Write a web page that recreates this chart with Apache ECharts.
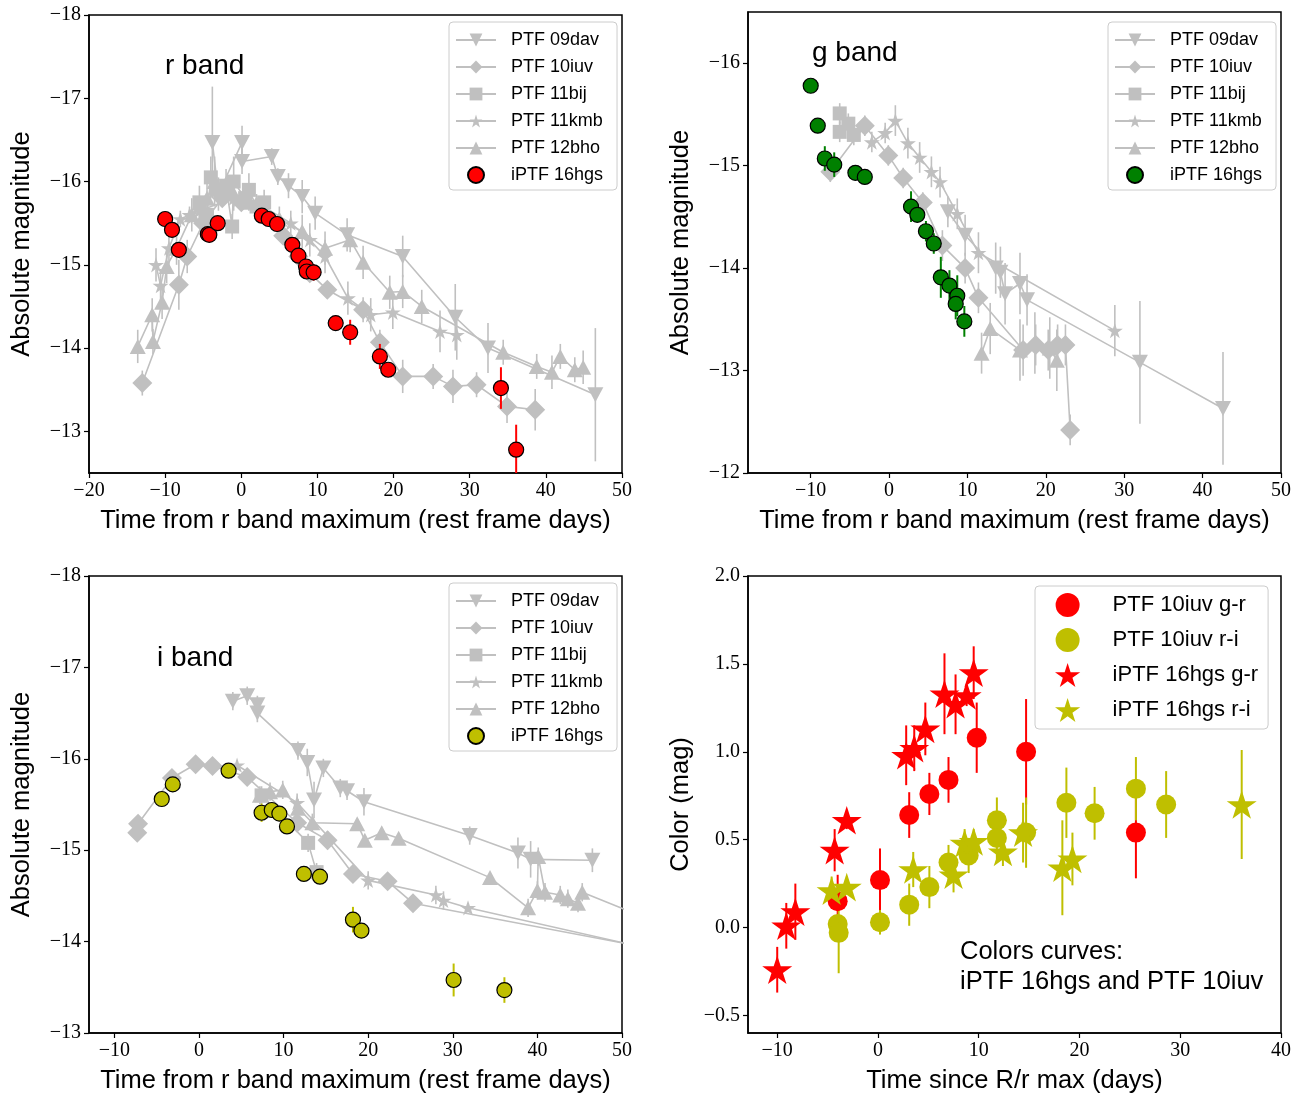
<!DOCTYPE html>
<html><head><meta charset="utf-8">
<script src="https://cdn.jsdelivr.net/npm/echarts@6/dist/echarts.min.js"></script>
<style>html,body{margin:0;padding:0;background:#fff}#c{width:1301px;height:1097px}</style>
</head><body><div id="c"></div><script>
// ---------- DATA: [time, value, error] ----------
// r band
const r_09dav = [[-3.8,-16.47,0.67],[-3.0,-15.85,0.2],[0.1,-16.47,0.2],[0.1,-16.24,0.15],[4.0,-16.3,0.1],[4.8,-16.06,0.1],[6.2,-15.95,0.15],[8.0,-15.82,0.2],[9.7,-15.62,0.2],[13.9,-15.36,0.2],[21.2,-15.1,0.25],[28.1,-14.37,0.4],[32.4,-14.0,0.3],[46.5,-13.44,0.8]];
const r_10iuv = [[-13.0,-13.58,0.15],[-8.2,-14.76,0.3],[-7.1,-15.1,0.2],[-5.0,-15.5,0.15],[-2.5,-15.8,0.1],[0.0,-15.75,0.1],[3.0,-15.6,0.1],[5.5,-15.35,0.1],[7.5,-15.1,0.1],[9.0,-14.9,0.1],[11.3,-14.7,0.1],[16.0,-14.46,0.15],[18.2,-14.07,0.15],[21.2,-13.66,0.2],[25.2,-13.66,0.15],[27.8,-13.54,0.2],[30.9,-13.56,0.15],[34.9,-13.3,0.2],[38.6,-13.26,0.25]];
const r_11bij = [[-5.5,-15.75,0.2],[-4.5,-15.6,0.15],[-4.0,-16.05,0.25],[-3.2,-15.9,0.1],[-2.0,-15.95,0.2],[-1.2,-15.46,0.15],[-1.0,-16.0,0.3],[0.5,-15.8,0.1],[1.0,-15.9,0.2],[2.0,-15.7,0.1],[3.0,-15.75,0.15]];
const r_11kmb = [[-11.2,-15.0,0.2],[-10.6,-14.75,0.2],[-9.5,-15.2,0.2],[-8.0,-15.55,0.1],[-6.8,-15.6,0.1],[-5.5,-15.65,0.1],[-1.0,-15.8,0.1],[2.0,-15.75,0.1],[6.5,-15.5,0.15],[9.0,-15.3,0.2],[11.0,-15.1,0.2],[14.0,-14.6,0.2],[17.0,-14.4,0.2],[19.9,-14.43,0.2],[26.1,-14.2,0.25],[28.3,-14.16,0.3]];
const r_12bho = [[-13.6,-14.02,0.2],[-11.7,-14.4,0.2],[-11.6,-14.08,0.15],[-10.4,-14.55,0.2],[-9.8,-14.98,0.2],[-8.5,-15.2,0.2],[-6.5,-15.6,0.2],[-4.5,-15.8,0.2],[-3.5,-16.0,0.3],[-2.0,-15.9,0.15],[-1.0,-15.85,0.2],[1.0,-15.75,0.1],[5.0,-15.55,0.15],[8.0,-15.4,0.2],[11.0,-15.2,0.2],[14.3,-15.3,0.15],[16.0,-15.03,0.2],[19.5,-14.67,0.2],[21.2,-14.68,0.2],[23.7,-14.5,0.2],[34.4,-13.95,0.15],[38.8,-13.78,0.15],[40.8,-13.71,0.2],[41.9,-13.9,0.15],[43.8,-13.74,0.15],[44.9,-13.77,0.2]];
const r_16hgs = [[-10.0,-15.55,0.04],[-9.1,-15.42,0.03],[-8.2,-15.18,0.05],[-4.4,-15.37,0.05],[-4.2,-15.36,0.07],[-3.1,-15.5,0.05],[2.7,-15.59,0.03],[3.6,-15.55,0.03],[4.7,-15.49,0.03],[6.7,-15.24,0.04],[7.5,-15.11,0.06],[8.5,-14.98,0.06],[8.6,-14.92,0.08],[9.5,-14.91,0.1],[12.4,-14.30,0.06],[14.3,-14.19,0.15],[18.2,-13.9,0.15],[19.3,-13.74,0.05],[34.1,-13.52,0.25],[36.1,-12.78,0.3]];
// g band
const g_09dav = [[7.5,-14.55,0.15],[9.7,-14.32,0.2],[13.6,-14.0,0.25],[14.2,-13.96,0.25],[14.8,-13.75,0.3],[16.7,-13.85,0.3],[17.6,-13.69,0.25],[32.0,-13.08,0.6],[42.6,-12.63,0.55]];
const g_10iuv = [[-7.5,-14.94,0.1],[-3.1,-15.39,0.1],[-0.1,-15.1,0.1],[1.8,-14.88,0.1],[4.3,-14.64,0.1],[6.8,-14.22,0.15],[9.7,-14.0,0.15],[11.4,-13.71,0.15],[17.1,-13.2,0.25],[18.7,-13.25,0.2],[20.3,-13.2,0.2],[21.5,-13.25,0.2],[22.5,-13.25,0.2],[23.1,-12.42,0.15]];
const g_11bij = [[-6.3,-15.51,0.1],[-6.3,-15.33,0.1],[-5.2,-15.41,0.1],[-4.5,-15.3,0.1]];
const g_11kmb = [[-2.2,-15.23,0.1],[-0.5,-15.32,0.1],[0.8,-15.44,0.15],[2.4,-15.22,0.15],[3.9,-15.08,0.15],[5.4,-14.94,0.15],[6.5,-14.84,0.15],[8.7,-14.53,0.15],[11.4,-14.15,0.2],[28.8,-13.39,0.25]];
const g_12bho = [[11.8,-13.17,0.2],[12.9,-13.41,0.25],[16.7,-13.2,0.3],[18.6,-13.27,0.3],[20.5,-13.22,0.3],[21.4,-13.1,0.3]];
const g_16hgs = [[-10.0,-15.78,0.05],[-9.1,-15.39,0.06],[-8.2,-15.07,0.12],[-7.0,-15.01,0.12],[-4.3,-14.93,0.03],[-3.1,-14.89,0.03],[2.8,-14.60,0.15],[3.6,-14.52,0.03],[4.7,-14.36,0.1],[5.7,-14.24,0.1],[6.6,-13.91,0.2],[7.7,-13.83,0.15],[8.7,-13.73,0.2],[8.5,-13.65,0.15],[9.6,-13.48,0.15]];
// i band
const i_09dav = [[4.0,-16.63,0.1],[5.7,-16.69,0.1],[6.9,-16.59,0.1],[6.9,-16.5,0.1],[11.7,-16.09,0.1],[12.8,-15.96,0.15],[13.6,-15.55,0.2],[14.7,-15.9,0.1],[16.7,-15.68,0.1],[17.5,-15.65,0.1],[19.5,-15.53,0.15],[32.0,-15.16,0.1],[37.7,-14.97,0.17],[39.2,-14.9,0.2],[46.5,-14.89,0.13]];
const i_10iuv = [[-7.3,-15.19,0.05],[-7.2,-15.29,0.05],[-3.2,-15.79,0.05],[-0.4,-15.94,0.05],[1.6,-15.92,0.05],[5.7,-15.8,0.05],[11.6,-15.3,0.05],[15.2,-15.11,0.1],[18.2,-14.74,0.05],[22.3,-14.66,0.05],[25.3,-14.42,0.05],[60.0,-13.81,0.05]];
const i_11bij = [[7.4,-15.6,0.1],[12.9,-15.08,0.1],[13.9,-14.76,0.1]];
const i_11kmb = [[4.5,-15.93,0.05],[11.6,-15.52,0.1],[20.0,-14.67,0.1],[28.0,-14.51,0.1],[28.9,-14.45,0.1],[31.8,-14.37,0.05],[60.0,-13.78,0.05]];
const i_12bho = [[7.2,-15.6,0.1],[8.4,-15.64,0.1],[9.9,-15.66,0.1],[11.7,-15.46,0.1],[13.4,-15.3,0.1],[18.7,-15.29,0.05],[19.6,-15.11,0.05],[21.6,-15.19,0.05],[23.6,-15.13,0.05],[34.4,-14.7,0.05],[38.9,-14.37,0.1],[40.0,-14.56,0.1],[40.1,-14.93,0.1],[40.9,-14.54,0.1],[42.7,-14.51,0.1],[43.6,-14.47,0.1],[44.8,-14.42,0.1],[45.3,-14.54,0.1],[60.0,-13.99,0.1]];
const i_16hgs = [[-4.4,-15.56,0.03],[-3.1,-15.72,0.03],[3.5,-15.87,0.03],[7.4,-15.41,0.1],[8.6,-15.44,0.05],[9.5,-15.40,0.03],[10.4,-15.26,0.03],[12.4,-14.74,0.03],[14.3,-14.71,0.05],[18.2,-14.24,0.14],[19.2,-14.12,0.03],[30.1,-13.58,0.18],[36.1,-13.47,0.14]];
// colours
const gr_10iuv = [[-4.0,0.15,0.15],[0.2,0.27,0.18],[3.1,0.64,0.13],[5.1,0.76,0.12],[7.0,0.84,0.13],[9.8,1.08,0.2],[14.7,1.0,0.3],[25.6,0.54,0.26]];
const ri_10iuv = [[-4.0,0.02,0.05],[-3.9,-0.03,0.23],[0.2,0.03,0.07],[3.1,0.13,0.12],[5.1,0.23,0.12],[7.0,0.37,0.1],[9.0,0.41,0.1],[11.8,0.61,0.13],[11.8,0.51,0.12],[14.7,0.54,0.2],[18.7,0.71,0.2],[21.5,0.65,0.15],[25.6,0.79,0.18],[28.6,0.70,0.19]];
const gr_16hgs = [[-10.0,-0.24,0.13],[-9.1,0.01,0.13],[-8.2,0.09,0.16],[-4.3,0.44,0.12],[-3.1,0.61,0.05],[2.8,0.98,0.17],[3.6,1.02,0.13],[4.7,1.13,0.15],[6.6,1.33,0.23],[7.7,1.27,0.17],[8.8,1.32,0.06],[9.5,1.45,0.15]];
const ri_16hgs = [[-4.6,0.21,0.08],[-3.1,0.23,0.04],[3.5,0.33,0.1],[7.5,0.30,0.1],[8.6,0.48,0.08],[9.5,0.49,0.07],[12.4,0.43,0.08],[14.4,0.54,0.17],[18.3,0.34,0.27],[19.3,0.39,0.15],[36.1,0.70,0.31]];
// ticks
const ticksMagTop = [-18,-17,-16,-15,-14,-13];
const ticksMagG = [-16,-15,-14,-13,-12];
const ticksTimeR = [-20,-10,0,10,20,30,40,50];
const ticksTimeG = [-10,0,10,20,30,40,50];
const ticksColorX = [-10,0,10,20,30,40];
const ticksColorY = [-0.5,0,0.5,1.0,1.5,2.0];

// ---------- STYLE ----------
const GRAY = '#c0c0c0', RED = '#ff0000', GREEN = '#008000', YEL = '#bfbf00';
const SANS = '"Liberation Sans", Arial, sans-serif';
const SERIF = '"Liberation Serif", "DejaVu Serif", serif';
const STAR = 'path://M100,0 L122.45,69.1 L195.1,69.1 L136.3,111.8 L158.8,180.9 L100,138.2 L41.2,180.9 L63.7,111.8 L4.9,69.1 L77.55,69.1 Z';
const minus = s => String(s).replace('-', '\u2212');

function grayLine(name, data, symbol, size, rot, ai) {
  const d = data.slice().sort((a,b)=>a[0]-b[0]);
  return {type:'line', name, xAxisIndex:ai, yAxisIndex:ai, data:d.map(p=>[p[0],p[1]]),
    symbol, symbolSize:size, symbolRotate:rot, symbolKeepAspect:true, clip:true,
    lineStyle:{color:GRAY,width:1.6}, itemStyle:{color:GRAY, opacity:1}, z:3, silent:true};
}
function errSeries(data, color, lw, ai, z) {
  return {type:'custom', xAxisIndex:ai, yAxisIndex:ai, data, z, silent:true, clip:true,
    encode:{x:0,y:1},
    renderItem:(p,api)=>{const x=api.value(0),y=api.value(1),e=api.value(2);
      const a=api.coord([x,y-e]), b=api.coord([x,y+e]);
      return {type:'line',shape:{x1:a[0],y1:a[1],x2:b[0],y2:b[1]},style:{stroke:color,lineWidth:lw}};}};
}
function dots(name, data, color, symbol, size, edge, ai) {
  return {type:'scatter', name, xAxisIndex:ai, yAxisIndex:ai, data:data.map(p=>[p[0],p[1]]),
    symbol, symbolSize:size, symbolKeepAspect:true, clip:true, silent:true,
    itemStyle: edge ? {color, borderColor:'#000', borderWidth:1.2, opacity:1} : {color, opacity:1}, z:6};
}
function bandSeries(tag, sets, col, ai) {
  const s = [];
  const specs = [['PTF 09dav','triangle',[16,15],180],['PTF 10iuv','diamond',20,0],['PTF 11bij','rect',14,0],['PTF 11kmb',STAR,16,0],['PTF 12bho','triangle',[16,15],0]];
  specs.forEach((sp,k)=>{
    s.push(errSeries(sets[k], GRAY, 1.6, ai, 2));
    s.push(grayLine(sp[0]+'|'+tag, sets[k], sp[1], sp[2], sp[3], ai));
  });
  s.push(errSeries(sets[5], col, 2, ai, 5));
  s.push(dots('iPTF 16hgs|'+tag, sets[5], col, 'circle', 15, true, ai));
  return s;
}

const series = [].concat(
  bandSeries('r', [r_09dav,r_10iuv,r_11bij,r_11kmb,r_12bho,r_16hgs], RED, 0),
  bandSeries('g', [g_09dav,g_10iuv,g_11bij,g_11kmb,g_12bho,g_16hgs], GREEN, 1),
  bandSeries('i', [i_09dav,i_10iuv,i_11bij,i_11kmb,i_12bho,i_16hgs], YEL, 2),
  [errSeries(gr_10iuv, RED, 2, 3, 5), dots('PTF 10iuv g-r', gr_10iuv, RED, 'circle', 20, false, 3),
   errSeries(ri_10iuv, YEL, 2, 3, 5), dots('PTF 10iuv r-i', ri_10iuv, YEL, 'circle', 20, false, 3),
   errSeries(gr_16hgs, RED, 2, 3, 5), dots('iPTF 16hgs g-r', gr_16hgs, RED, STAR, 30, false, 3),
   errSeries(ri_16hgs, YEL, 2, 3, 5), dots('iPTF 16hgs r-i', ri_16hgs, YEL, STAR, 30, false, 3)]
);

function axis(ai, min, max, ticks, name, gap, inverse, fmt) {
  return {type:'value', gridIndex:ai, min, max, inverse:!!inverse, name, nameLocation:'middle', nameGap:gap,
    nameTextStyle:{fontFamily:SANS, fontSize:25.5, color:'#000'},
    axisLine:{show:true, onZero:false, lineStyle:{color:'#000', width:1.5}},
    axisTick:{show:true, length:5, customValues:ticks, lineStyle:{color:'#000', width:1.2}},
    axisLabel:{customValues:ticks, color:'#000', fontFamily:SERIF, fontSize:20, margin:8, formatter: fmt || (v=>minus(v))},
    splitLine:{show:false}};
}
const grids = [
  {left:89, top:15, width:533, height:458},
  {left:748, top:12, width:533, height:461},
  {left:89, top:576, width:533, height:457},
  {left:748, top:576, width:533, height:457}
].map(g=>Object.assign(g,{show:true, borderColor:'#000', borderWidth:1.5, backgroundColor:'transparent'}));

const XN = 'Time from r band maximum (rest frame days)';
const xAxis = [
  axis(0,-20,50,ticksTimeR,XN,35),
  axis(1,-18,50,ticksTimeG,XN,35),
  axis(2,-13,50,ticksTimeG,XN,35),
  axis(3,-12.9,40,ticksColorX,'Time since R/r max (days)',35)
];
const yAxis = [
  axis(0,-18,-12.5,ticksMagTop,'Absolute magnitude',54,true),
  axis(1,-16.5,-12,ticksMagG,'Absolute magnitude',54,true),
  axis(2,-18,-13,ticksMagTop,'Absolute magnitude',54,true),
  axis(3,-0.6,2.0,ticksColorY,'Color (mag)',54,false, v=>minus(Number(v).toFixed(1)))
];

function legendFor(tag, left, top) {
  return {show:true, orient:'vertical', left, top, selectedMode:false,
    data:['PTF 09dav','PTF 10iuv','PTF 11bij','PTF 11kmb','PTF 12bho','iPTF 16hgs'].map(n=>n+'|'+tag),
    formatter:n=>n.split('|')[0], itemWidth:40, itemHeight:16, itemGap:7, padding:[8,14,5,6],
    textStyle:{fontFamily:SANS, fontSize:18, color:'#000', lineHeight:20, padding:[0,0,0,10]},
    backgroundColor:'rgba(255,255,255,0.8)', borderColor:'#cccccc', borderWidth:1, borderRadius:4};
}
const legend = [
  legendFor('r',449,22), legendFor('g',1108,22), legendFor('i',449,583),
  {show:true, orient:'vertical', left:1035, top:586, selectedMode:false,
   data:['PTF 10iuv g-r','PTF 10iuv r-i','iPTF 16hgs g-r','iPTF 16hgs r-i'],
   itemWidth:40, itemHeight:24, itemGap:11, padding:[7,10,7,20],
   textStyle:{fontFamily:SANS, fontSize:22, color:'#000', lineHeight:24, padding:[0,0,0,20]},
   backgroundColor:'rgba(255,255,255,0.8)', borderColor:'#cccccc', borderWidth:1, borderRadius:4}
];
const tStyle = {fontFamily:SANS, fontSize:28, fontWeight:'normal', color:'#000'};
const title = [
  {text:'r band', left:165, top:52, padding:0, textStyle:tStyle},
  {text:'g band', left:812, top:39, padding:0, textStyle:tStyle},
  {text:'i band', left:157, top:644, padding:0, textStyle:tStyle},
  {text:'Colors curves:\niPTF 16hgs and PTF 10iuv', left:960, top:937, padding:0,
   textStyle:{fontFamily:SANS, fontSize:25.5, fontWeight:'normal', color:'#000', lineHeight:30}}
];

const chart = echarts.init(document.getElementById('c'), null, {renderer:'canvas'});
chart.setOption({animation:false, backgroundColor:'#fff', title, legend, grid:grids, xAxis, yAxis, series});
</script></body></html>
